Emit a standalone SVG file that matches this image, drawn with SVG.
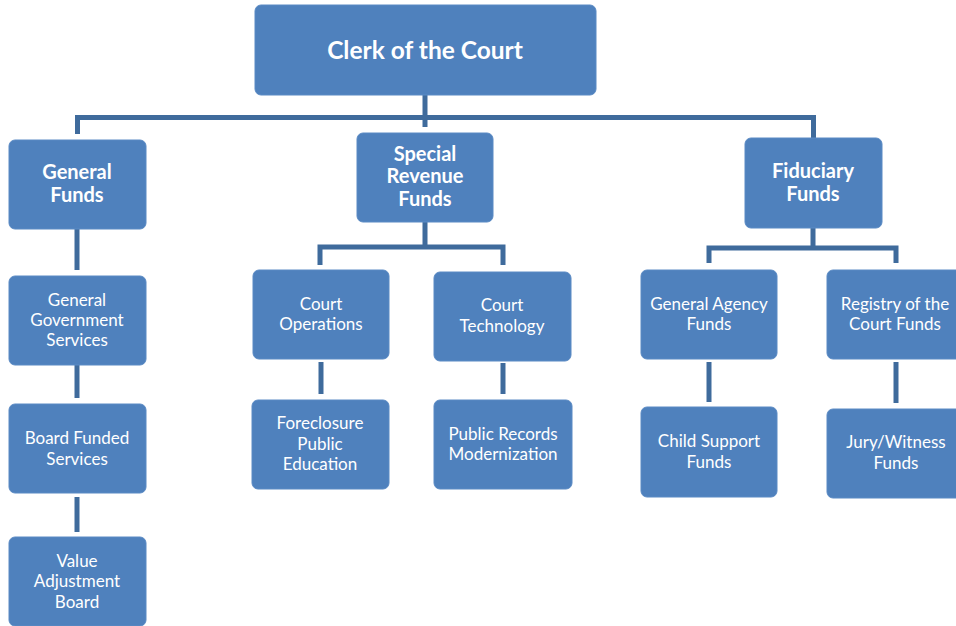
<svg xmlns="http://www.w3.org/2000/svg" width="956" height="626" viewBox="0 0 956 626">
  <style>
    .box { fill: #4f81bd; stroke: #5a8ac4; stroke-width: 1; }
    .link { fill: none; stroke: #3f6b9c; stroke-width: 5; stroke-linejoin: miter; }
    .title { font-family: Lato, "Liberation Sans", sans-serif; font-weight: bold; font-size: 24.5px; fill: #ffffff; text-anchor: middle; }
    .head { font-family: Lato, "Liberation Sans", sans-serif; font-weight: bold; font-size: 20px; fill: #ffffff; text-anchor: middle; }
    .body { font-family: Lato, "Liberation Sans", sans-serif; font-size: 17px; fill: #ffffff; text-anchor: middle; }
  </style>
  <rect width="956" height="626" fill="#ffffff"/>

  <!-- connectors -->
  <g id="connectors" class="link">
    <path d="M425,95 V127"/>
    <path d="M77.5,134 V117.5 H813.5 V138"/>
    <path d="M77,229 V270"/>
    <path d="M77,365 V398"/>
    <path d="M77,497 V532"/>
    <path d="M425,222 V247 M320,265 V247 H503 V265"/>
    <path d="M321,362 V394"/>
    <path d="M503,363 V394"/>
    <path d="M813,228 V248 M709,263 V248 H896 V263"/>
    <path d="M709,362 V402"/>
    <path d="M896,362 V403"/>
  </g>

  <!-- nodes -->
  <g id="clerk">
    <rect class="box" x="255" y="5" width="341" height="90" rx="6"/>
    <text class="title" x="425" y="59">Clerk of the Court</text>
  </g>

  <g id="general-funds">
    <rect class="box" x="9" y="140" width="137" height="89" rx="6"/>
    <text class="head" x="77" y="179">General</text>
    <text class="head" x="77" y="202">Funds</text>
  </g>
  <g id="general-government-services">
    <rect class="box" x="9" y="276" width="137" height="89" rx="6"/>
    <text class="body" x="77" y="306">General</text>
    <text class="body" x="77" y="326">Government</text>
    <text class="body" x="77" y="346">Services</text>
  </g>
  <g id="board-funded-services">
    <rect class="box" x="9" y="404" width="137" height="89" rx="6"/>
    <text class="body" x="77" y="444">Board Funded</text>
    <text class="body" x="77" y="465">Services</text>
  </g>
  <g id="value-adjustment-board">
    <rect class="box" x="9" y="537" width="137" height="89" rx="6"/>
    <text class="body" x="77" y="567">Value</text>
    <text class="body" x="77" y="587">Adjustment</text>
    <text class="body" x="77" y="608">Board</text>
  </g>

  <g id="special-revenue-funds">
    <rect class="box" x="357" y="133" width="136" height="89" rx="6"/>
    <text class="head" x="425" y="161">Special</text>
    <text class="head" x="425" y="183">Revenue</text>
    <text class="head" x="425" y="206">Funds</text>
  </g>
  <g id="court-operations">
    <rect class="box" x="253" y="270" width="136" height="89" rx="6"/>
    <text class="body" x="321" y="310">Court</text>
    <text class="body" x="321" y="330">Operations</text>
  </g>
  <g id="court-technology">
    <rect class="box" x="434" y="272" width="137" height="89" rx="6"/>
    <text class="body" x="502" y="311">Court</text>
    <text class="body" x="502" y="332">Technology</text>
  </g>
  <g id="foreclosure-public-education">
    <rect class="box" x="252" y="400" width="137" height="89" rx="6"/>
    <text class="body" x="320" y="429">Foreclosure</text>
    <text class="body" x="320" y="450">Public</text>
    <text class="body" x="320" y="470">Education</text>
  </g>
  <g id="public-records-modernization">
    <rect class="box" x="434" y="400" width="138" height="89" rx="6"/>
    <text class="body" x="503" y="440">Public Records</text>
    <text class="body" x="503" y="460">Modernization</text>
  </g>

  <g id="fiduciary-funds">
    <rect class="box" x="745" y="138" width="137" height="90" rx="6"/>
    <text class="head" x="813" y="178">Fiduciary</text>
    <text class="head" x="813" y="201">Funds</text>
  </g>
  <g id="general-agency-funds">
    <rect class="box" x="641" y="270" width="136" height="89" rx="6"/>
    <text class="body" x="709" y="310">General Agency</text>
    <text class="body" x="709" y="330">Funds</text>
  </g>
  <g id="registry-court-funds">
    <rect class="box" x="827" y="270" width="137" height="89" rx="6"/>
    <text class="body" x="895" y="310">Registry of the</text>
    <text class="body" x="895" y="330">Court Funds</text>
  </g>
  <g id="child-support-funds">
    <rect class="box" x="641" y="407" width="136" height="90" rx="6"/>
    <text class="body" x="709" y="447">Child Support</text>
    <text class="body" x="709" y="468">Funds</text>
  </g>
  <g id="jury-witness-funds">
    <rect class="box" x="827" y="409" width="137" height="89" rx="6"/>
    <text class="body" x="896" y="448">Jury/Witness</text>
    <text class="body" x="896" y="469">Funds</text>
  </g>
</svg>
